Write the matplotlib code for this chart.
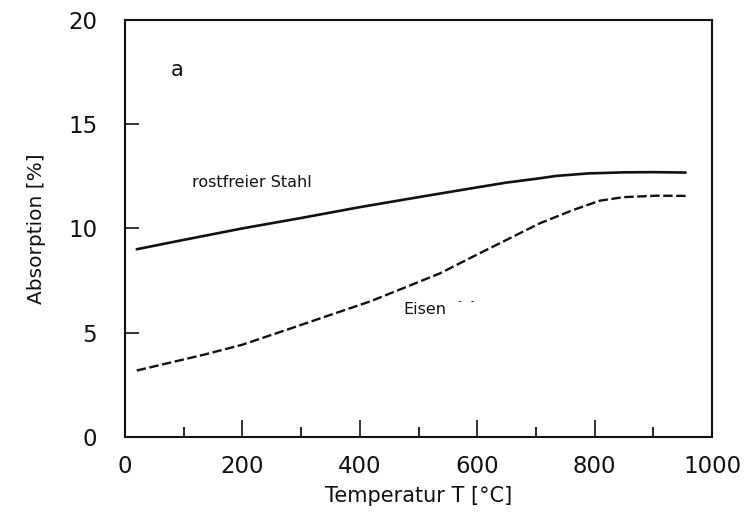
import matplotlib
matplotlib.use("Agg")
import matplotlib.pyplot as plt
from matplotlib.ticker import MultipleLocator

# Data
temp_stahl = [20, 100, 200, 300, 400, 500, 600, 650, 700, 735, 790, 850, 900, 955]
abs_stahl = [9.0, 9.45, 10.0, 10.5, 11.02, 11.5, 11.97, 12.2, 12.38, 12.52, 12.64, 12.69, 12.7, 12.68]

temp_eisen = [20, 80, 133, 200, 275, 350, 417, 480, 537, 593, 650, 707, 764, 809, 849, 906, 955]
abs_eisen = [3.18, 3.58, 3.93, 4.42, 5.13, 5.85, 6.49, 7.2, 7.85, 8.65, 9.45, 10.25, 10.89, 11.33, 11.5, 11.57, 11.56]

xticks = [0, 200, 400, 600, 800, 1000]
yticks = [0, 5, 10, 15, 20]

plt.rcParams['font.family'] = ['DejaVu Sans']

fig = plt.figure(figsize=(7.44, 5.2), dpi=100)
ax = fig.add_axes([0.168, 0.160, 0.789, 0.8015])

ax.plot(temp_stahl, abs_stahl, color='#111111', lw=1.9,
        solid_capstyle='round', solid_joinstyle='round')
ax.plot(temp_eisen, abs_eisen, color='#111111', lw=1.7,
        linestyle=(0, (4, 1.5)), dash_joinstyle='round')

ax.set_xlim(0, 1000)
ax.set_ylim(0, 20)
ax.set_xticks(xticks)
ax.set_yticks(yticks)
ax.xaxis.set_minor_locator(MultipleLocator(100))

ax.tick_params(axis='both', which='major', direction='in', labelsize=16.5,
               width=1.2, colors='#111111')
ax.tick_params(axis='x', which='major', length=12, pad=13, top=False)
ax.tick_params(axis='x', which='minor', direction='in', length=7, width=1.2, top=False)
ax.tick_params(axis='y', which='major', length=10, pad=20, right=False)

for s in ax.spines.values():
    s.set_linewidth(1.5)
    s.set_color('#111111')

ax.set_xlabel('Temperatur T [°C]', fontsize=15, color='#111111', labelpad=6)
ax.set_ylabel('Absorption [%]', fontsize=14.5, color='#111111', labelpad=16)

ax.text(78, 17.6, 'a', fontsize=15, color='#111111', va='center')
ax.text(115, 12.2, 'rostfreier Stahl', fontsize=11.5, color='#111111', va='center')
ax.text(475, 6.1, 'Eisen', fontsize=11.5, color='#111111', va='center')
ax.text(568, 6.5, '-   -', fontsize=7, color='#111111', va='center')

fig.savefig('out.png', dpi=100, facecolor='white')
